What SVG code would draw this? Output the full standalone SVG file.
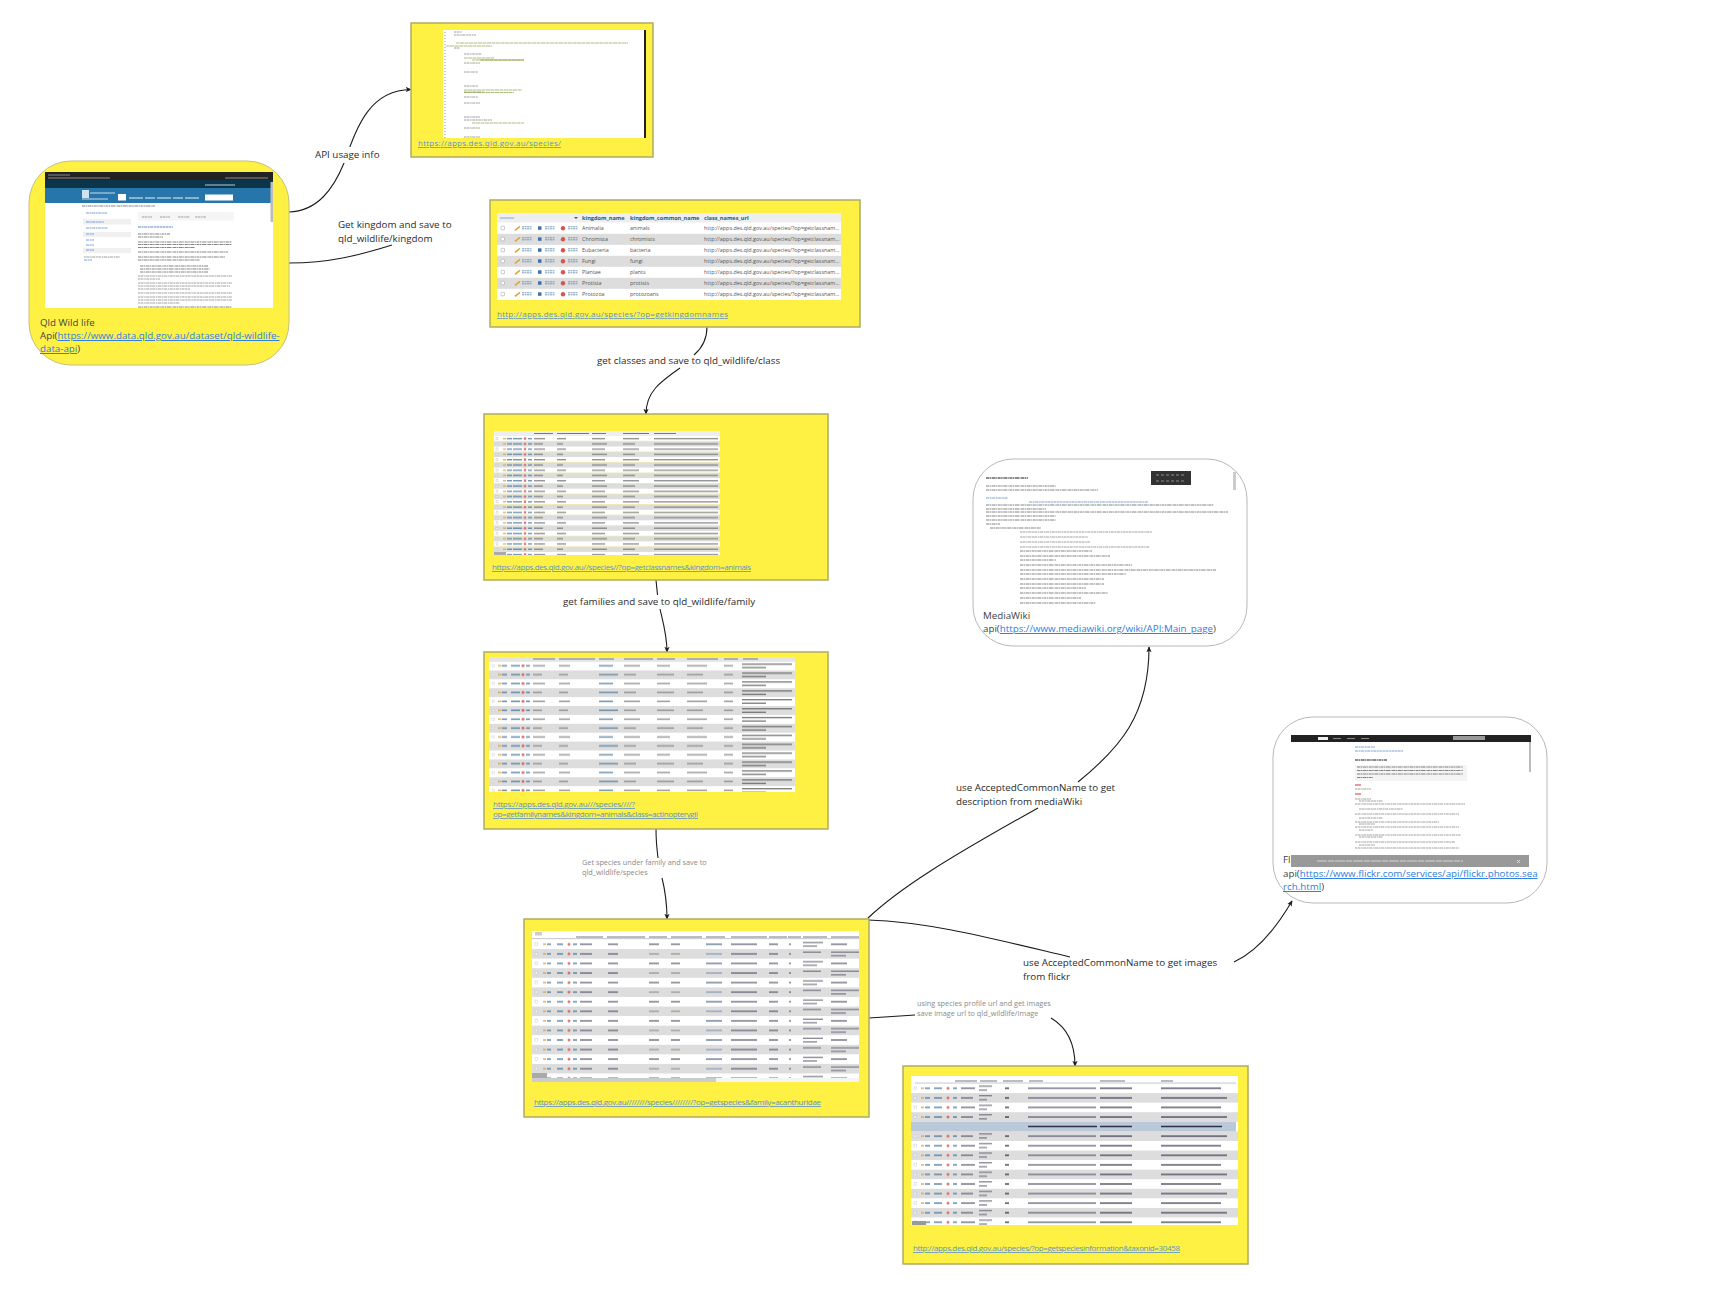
<svg xmlns="http://www.w3.org/2000/svg" width="1719" height="1308" viewBox="0 0 1719 1308">
<style>
text{font-family:"Open Sans","Noto Sans","Liberation Sans",sans-serif}
.box{fill:#fff143;stroke:#aeaa62;stroke-width:1.5}
.rnd{fill:#fff143;stroke:#c4c17e;stroke-width:1}
.wht{fill:#fff;stroke:#b8b8b8;stroke-width:1}
.t{font-size:9.8px;fill:#2b2b2b}
.g{font-size:7.3px;fill:#8a8a8a}
.n{font-size:9.75px;fill:#444}
.lk{font-size:8px;fill:#5a94cc;text-decoration:underline}
.a{fill:#2f7de1;text-decoration:underline}
.c{fill:none;stroke:#1c1c1c;stroke-width:1.1}
.ca{fill:none;stroke:#1c1c1c;stroke-width:1.1;marker-end:url(#ah)}
.soft{filter:url(#bl)}
.bg{fill:#fff}
.l1{fill:none;stroke:#888;stroke-width:.8;stroke-dasharray:2 .5 3 .7 1.500 .5 3 .6}
.l2{fill:none;stroke:#666;stroke-width:.8;stroke-dasharray:3 .5 1.500 .6 4 .5 1 .6}
.l3{fill:none;stroke:#5a8ac8;stroke-width:.8;stroke-dasharray:3 .6 2 .5}
.l4{fill:none;stroke:#8aa248;stroke-width:.7;stroke-dasharray:3 .5 5 .5}
.hd{font-size:5.6px;font-weight:700;fill:#235a81}
.rw{font-size:5.4px;fill:#555}
.h{fill:none;stroke:#778;stroke-width:1}
</style>
<defs>
<marker id="ah" viewBox="0 0 8 8" refX="7" refY="4" markerWidth="6" markerHeight="6" orient="auto" markerUnits="userSpaceOnUse"><path d="M0 0.5L8 4L0 7.500L2 4Z" fill="#1c1c1c"/></marker>
<filter id="bl" x="-2%" y="-2%" width="104%" height="104%"><feGaussianBlur stdDeviation="0.35"/></filter>
<g id="act"><rect x="0" y="-2" width="3.500" height="3.500" rx=".5" fill="#fff" stroke="#999" stroke-width=".5"/><path d="M14 2L19 -2" stroke="#e0a030" stroke-width="1.500"/><path d="M21 -1.500H31M21 .5H31" stroke="#6a93b5" stroke-width=".9" stroke-dasharray="2 .5"/><rect x="37" y="-2" width="3.500" height="3.500" fill="#3f72a8"/><path d="M44 -1.500H54M44 .5H54" stroke="#6a93b5" stroke-width=".9" stroke-dasharray="2 .5"/><circle cx="62" cy="0" r="2.200" fill="#d9534f"/><path d="M67 -1.500H77M67 .5H77" stroke="#6a93b5" stroke-width=".9" stroke-dasharray="2 .5"/></g>
<pattern id="pClass" patternUnits="userSpaceOnUse" x="494" y="436" width="226" height="10.54">
<rect width="226" height="5.27" fill="#fff"/><rect y="5.27" width="226" height="5.27" fill="#ddd"/>
<g fill="#777" opacity=".8"><rect x="2" y="1.700" width="2" height="2" fill="#fff" stroke="#aaa" stroke-width=".4"/><rect x="9" y="1.900" width="3" height="1.400" fill="#dba23a"/><rect x="13" y="1.900" width="5" height="1.400" fill="#4a7aa0"/><rect x="19" y="1.900" width="9" height="1.400" fill="#4a7aa0"/><circle cx="31" cy="2.600" r="1.300" fill="#d9534f"/><rect x="34" y="1.900" width="4" height="1.400" fill="#4a7aa0"/><rect x="40" y="1.900" width="11" height="1.400"/><rect x="63" y="1.900" width="9" height="1.400"/><rect x="98" y="1.900" width="13" height="1.400"/><rect x="129" y="1.900" width="16" height="1.400"/><rect x="160" y="1.900" width="64" height="1.400" fill="#777"/>
<rect x="2" y="7" width="2" height="2" fill="#fff" stroke="#aaa" stroke-width=".4"/><rect x="9" y="7.200" width="3" height="1.400" fill="#dba23a"/><rect x="13" y="7.200" width="5" height="1.400" fill="#4a7aa0"/><rect x="19" y="7.200" width="9" height="1.400" fill="#4a7aa0"/><circle cx="31" cy="7.900" r="1.300" fill="#d9534f"/><rect x="34" y="7.200" width="4" height="1.400" fill="#4a7aa0"/><rect x="40" y="7.200" width="9" height="1.400"/><rect x="63" y="7.200" width="6" height="1.400"/><rect x="98" y="7.200" width="15" height="1.400"/><rect x="129" y="7.200" width="12" height="1.400"/><rect x="160" y="7.200" width="64" height="1.400" fill="#777"/></g>
</pattern>
<pattern id="pFam" patternUnits="userSpaceOnUse" x="489" y="661.500" width="306" height="17.8">
<rect width="306" height="8.9" fill="#fff"/><rect y="8.9" width="306" height="8.9" fill="#ddd"/>
<g fill="#8a8a8a" opacity=".8"><rect x="3" y="3" width="2.400" height="2.400" fill="#fff" stroke="#aaa" stroke-width=".4"/><rect x="9" y="3.500" width="3.500" height="1.600" fill="#dba23a"/><rect x="13" y="3.500" width="5" height="1.600" fill="#4a7aa0"/><rect x="22" y="3.500" width="9" height="1.600" fill="#4a7aa0"/><circle cx="34" cy="4.300" r="1.500" fill="#d9534f"/><rect x="37" y="3.500" width="4" height="1.600" fill="#4a7aa0"/><rect x="44" y="3.500" width="12" height="1.600"/><rect x="70" y="3.500" width="11" height="1.600"/><rect x="110" y="3.500" width="14" height="1.600" fill="#5a7fa0"/><rect x="135" y="3.500" width="16" height="1.600"/><rect x="168" y="3.500" width="13" height="1.600"/><rect x="198" y="3.500" width="20" height="1.600"/><rect x="235" y="3.500" width="9" height="1.600"/><rect x="253" y="2" width="50" height="1.300" fill="#555"/><rect x="253" y="5.500" width="24" height="1.300" fill="#555"/>
<rect x="3" y="12" width="2.400" height="2.400" fill="#fff" stroke="#aaa" stroke-width=".4"/><rect x="9" y="12.400" width="3.500" height="1.600" fill="#dba23a"/><rect x="13" y="12.400" width="5" height="1.600" fill="#4a7aa0"/><rect x="22" y="12.400" width="9" height="1.600" fill="#4a7aa0"/><circle cx="34" cy="13.200" r="1.500" fill="#d9534f"/><rect x="37" y="12.400" width="4" height="1.600" fill="#4a7aa0"/><rect x="44" y="12.400" width="9" height="1.600"/><rect x="70" y="12.400" width="9" height="1.600"/><rect x="110" y="12.400" width="19" height="1.600" fill="#5a7fa0"/><rect x="135" y="12.400" width="12" height="1.600"/><rect x="168" y="12.400" width="17" height="1.600"/><rect x="198" y="12.400" width="16" height="1.600"/><rect x="235" y="12.400" width="9" height="1.600"/><rect x="253" y="11" width="50" height="1.300" fill="#555"/><rect x="253" y="14.500" width="24" height="1.300" fill="#555"/></g>
</pattern>
<pattern id="pSp" patternUnits="userSpaceOnUse" x="532" y="939.500" width="327" height="19.14">
<rect width="327" height="9.57" fill="#fff"/><rect y="9.57" width="327" height="9.57" fill="#ddd"/>
<g fill="#667" opacity=".8"><rect x="3" y="3.500" width="2.400" height="2.400" fill="#fff" stroke="#aaa" stroke-width=".4"/><rect x="11" y="4" width="3" height="1.600" fill="#dba23a"/><rect x="15" y="4" width="4" height="1.600" fill="#4a7aa0"/><rect x="25" y="4" width="6" height="1.600" fill="#4a7aa0"/><circle cx="37" cy="4.800" r="1.500" fill="#d9534f"/><rect x="41" y="4" width="4" height="1.600" fill="#4a7aa0"/><rect x="48" y="4" width="12" height="1.600"/><rect x="76" y="4" width="10" height="1.600"/><rect x="117" y="4" width="10" height="1.600"/><rect x="139" y="4" width="9" height="1.600"/><rect x="174" y="4" width="16" height="1.600" fill="#59748f"/><rect x="199" y="4" width="26" height="1.600"/><rect x="237" y="4" width="9" height="1.600"/><rect x="257" y="4" width="2" height="1.600"/><rect x="271" y="2.500" width="20" height="1.300"/><rect x="271" y="6" width="14" height="1.300"/><rect x="299" y="4" width="16" height="1.600"/>
<rect x="3" y="13" width="2.400" height="2.400" fill="#fff" stroke="#aaa" stroke-width=".4"/><rect x="11" y="13.600" width="3" height="1.600" fill="#dba23a"/><rect x="15" y="13.600" width="4" height="1.600" fill="#4a7aa0"/><rect x="25" y="13.600" width="6" height="1.600" fill="#4a7aa0"/><circle cx="37" cy="14.400" r="1.500" fill="#d9534f"/><rect x="41" y="13.600" width="4" height="1.600" fill="#4a7aa0"/><rect x="48" y="13.600" width="12" height="1.600"/><rect x="76" y="13.600" width="10" height="1.600"/><rect x="117" y="13.600" width="10" height="1.600" fill="#999"/><rect x="139" y="13.600" width="9" height="1.600" fill="#999"/><rect x="174" y="13.600" width="16" height="1.600" fill="#8aa0b8"/><rect x="199" y="13.600" width="26" height="1.600"/><rect x="237" y="13.600" width="9" height="1.600"/><rect x="257" y="13.600" width="2" height="1.600"/><rect x="271" y="12" width="18" height="1.300"/><rect x="299" y="12" width="28" height="1.300"/><rect x="299" y="15.500" width="15" height="1.300"/></g>
</pattern>
<pattern id="pImg" patternUnits="userSpaceOnUse" x="911" y="1083.500" width="327" height="19.14">
<rect width="327" height="9.57" fill="#fff"/><rect y="9.57" width="327" height="9.57" fill="#ddd"/>
<g fill="#667" opacity=".8"><rect x="3" y="3.500" width="2.400" height="2.400" fill="#fff" stroke="#aaa" stroke-width=".4"/><rect x="10" y="4" width="3" height="1.600" fill="#dba23a"/><rect x="14" y="4" width="5" height="1.600" fill="#4a7aa0"/><rect x="23" y="4" width="8" height="1.600" fill="#4a7aa0"/><circle cx="37" cy="4.800" r="1.500" fill="#d9534f"/><rect x="42" y="4" width="4" height="1.600" fill="#4a7aa0"/><rect x="50" y="4" width="14" height="1.600"/><rect x="68" y="2" width="13" height="1.300"/><rect x="68" y="6" width="8" height="1.300"/><rect x="94" y="4" width="4" height="1.600" fill="#333"/><rect x="117" y="4" width="68" height="1.600"/><rect x="189" y="4" width="32" height="1.600" fill="#445"/><rect x="250" y="4" width="60" height="1.600" fill="#445"/>
<rect x="3" y="13" width="2.400" height="2.400" fill="#fff" stroke="#aaa" stroke-width=".4"/><rect x="10" y="13.600" width="3" height="1.600" fill="#dba23a"/><rect x="14" y="13.600" width="5" height="1.600" fill="#4a7aa0"/><rect x="23" y="13.600" width="8" height="1.600" fill="#4a7aa0"/><circle cx="37" cy="14.400" r="1.500" fill="#d9534f"/><rect x="42" y="13.600" width="4" height="1.600" fill="#4a7aa0"/><rect x="50" y="13.600" width="12" height="1.600"/><rect x="68" y="11.500" width="13" height="1.300"/><rect x="68" y="15.500" width="8" height="1.300"/><rect x="94" y="13.600" width="4" height="1.600" fill="#333"/><rect x="117" y="13.600" width="68" height="1.600"/><rect x="189" y="13.600" width="32" height="1.600" fill="#445"/><rect x="250" y="13.600" width="66" height="1.600" fill="#445"/></g>
</pattern>
</defs>

<g id="connectors">
<path class="ca" d="M289 212C317 211 333 190 344 163C356 130 368 90 411 89.500"/>
<path class="c" d="M289 263C330 263 360 255 392 245"/>
<path class="c" d="M707 327C707 341 701 349 694 355"/>
<path class="ca" d="M680 368C660 382 646 392 646 414"/>
<path class="c" d="M656 580L657.500 595"/>
<path class="ca" d="M660 609C663 622 667 635 667 652"/>
<path class="c" d="M656 829C656 840 657 850 658 858"/>
<path class="ca" d="M662 878C665 890 667 905 667 919"/>
<path class="c" d="M868 918C900 888 945 860 1038 808"/>
<path class="ca" d="M1078 782C1120 748 1149 715 1149 647"/>
<path class="c" d="M868 920C930 922 990 938 1070 957"/>
<path class="ca" d="M1234 962C1260 950 1278 925 1292 901"/>
<path class="c" d="M869 1018L915 1015"/>
<path class="ca" d="M1051 1018C1068 1028 1075 1045 1075 1066"/>
</g>

<g id="node-qld">
<rect class="rnd" x="29" y="161" width="260" height="204" rx="42"/>
<g class="soft">
<rect x="45" y="172" width="228" height="136" fill="#fff"/>
<rect x="45" y="172" width="228" height="8" fill="#202124"/>
<rect x="45" y="180" width="228" height="8" fill="#0c3448"/>
<rect x="45" y="188" width="228" height="15" fill="#2676ab"/>
<rect x="270.500" y="182" width="2.500" height="40" fill="#bbb"/>
<path d="M48 175H70M48 178H110M225 178H268" stroke="#999" stroke-width=".9" fill="none"/>
<path d="M205 185H235" stroke="#cde" stroke-width=".9"/>
<rect x="82" y="190" width="7" height="8" fill="#cfe3f0"/>
<path d="M90 193H115M82 199H108" stroke="#dbe9f3" stroke-width=".9"/>
<rect x="118" y="194" width="8" height="6.500" fill="#fff"/>
<path d="M129 198H200" stroke="#e6f0f6" stroke-width="1" stroke-dasharray="14 2 10 2"/>
<rect x="205" y="194.500" width="28" height="6" fill="#fff"/>
<rect x="83" y="219" width="48" height="5.500" fill="#f0f0f0"/><rect x="83" y="232" width="48" height="5" fill="#f0f0f0"/><rect x="83" y="248" width="48" height="5" fill="#f0f0f0"/>
<rect x="138" y="212" width="96" height="8.500" fill="#f5f5f5"/>
<path class="l2" d="M82 206H155"/>
<path class="l3" d="M86 213H107M86 222H104M86 228H108M86 234H94M86 240H94M86 245H94M86 250H94"/>
<path class="l1" d="M84 257H120"/><path class="l3" d="M84 260H92"/>
<path class="l1" d="M142 217H152M160 217H170M178 217H190M195 217H206"/>
<path class="l3" d="M138 227H173" style="stroke-width:1.100"/>
<path class="l2" d="M138 234H170M138 237H163M138 242H232M138 244.500H232M138 247.500H195M138 252H228M138 257H225M138 260H200M140 266H208M140 269H210M140 272H208"/>
<path class="l1" d="M138 276H232M138 279H160M138 283H232M138 286H230M138 289H190M138 293H232M138 297H232M138 300H232M138 303H180"/>
<path class="l2" d="M138 307H232"/>
</g>
<text class="n"><tspan x="40" y="326">Qld Wild life</tspan><tspan x="40" y="339">Api(<tspan class="a">https://www.data.qld.gov.au/dataset/qld-wildlife-</tspan></tspan><tspan x="40" y="352"><tspan class="a">data-api</tspan>)</tspan></text>
</g>

<g id="node-usage">
<rect class="box" x="411" y="23" width="242" height="134"/>
<g class="soft" transform="translate(-6 0)">
<rect x="449" y="30" width="202" height="108" fill="#fff"/>
<rect x="650" y="30" width="2" height="108" fill="#222"/>
<path d="M451 32V138" stroke="#ccc" stroke-width="2" stroke-dasharray="1 2"/>
<path class="l1" d="M460 32H468M460 35H482M460 48H466M470 54H488M470 63H486M470 72H484M470 86H484M470 92H490M470 97H484M470 103H486M470 117H486M470 120H498M470 128H486M470 137H486"/>
<path class="l4" d="M462 43H634M452 46H498M470 58H500M478 60H530M470 90H528M470 92.500H520M478 123H530"/>
<path d="M486 60H530" stroke="#7c8f1a" stroke-width=".6"/>
</g>
<text class="lk" x="418" y="146" textLength="143">https://apps.des.qld.gov.au/species/</text>
</g>

<g id="node-kingdom">
<rect class="box" x="490" y="200" width="370" height="127"/>
<g class="soft">
<rect x="497" y="213" width="344" height="87" fill="#fff"/>
<rect x="497" y="213" width="344" height="9.500" fill="#eee"/>
<rect x="497" y="233.800" width="344" height="11" fill="#ddd"/><rect x="497" y="255.800" width="344" height="11" fill="#ddd"/><rect x="497" y="277.800" width="344" height="11" fill="#ddd"/>
<path d="M500 218H514" stroke="#7aa0cc" stroke-width=".9"/>
<path d="M574 217L578 217L576 219Z" fill="#555"/>
<use href="#act" x="501" y="228.300"/><use href="#act" x="501" y="239.300"/><use href="#act" x="501" y="250.300"/><use href="#act" x="501" y="261.300"/><use href="#act" x="501" y="272.300"/><use href="#act" x="501" y="283.300"/><use href="#act" x="501" y="294.300"/>
</g>
<text class="hd" x="582" y="220">kingdom_name</text><text class="hd" x="630" y="220">kingdom_common_name</text><text class="hd" x="704" y="220">class_names_url</text>
<text class="rw" x="582" y="230.300">Animalia</text><text class="rw" x="630" y="230.300">animals</text><text class="rw" x="704" y="230.300">http://apps.des.qld.gov.au/species/?op=getclassnam...</text>
<text class="rw" x="582" y="241.300">Chromista</text><text class="rw" x="630" y="241.300">chromists</text><text class="rw" x="704" y="241.300">http://apps.des.qld.gov.au/species/?op=getclassnam...</text>
<text class="rw" x="582" y="252.300">Eubacteria</text><text class="rw" x="630" y="252.300">bacteria</text><text class="rw" x="704" y="252.300">http://apps.des.qld.gov.au/species/?op=getclassnam...</text>
<text class="rw" x="582" y="263.300">Fungi</text><text class="rw" x="630" y="263.300">fungi</text><text class="rw" x="704" y="263.300">http://apps.des.qld.gov.au/species/?op=getclassnam...</text>
<text class="rw" x="582" y="274.300">Plantae</text><text class="rw" x="630" y="274.300">plants</text><text class="rw" x="704" y="274.300">http://apps.des.qld.gov.au/species/?op=getclassnam...</text>
<text class="rw" x="582" y="285.300">Protista</text><text class="rw" x="630" y="285.300">protists</text><text class="rw" x="704" y="285.300">http://apps.des.qld.gov.au/species/?op=getclassnam...</text>
<text class="rw" x="582" y="296.300">Protozoa</text><text class="rw" x="630" y="296.300">protozoans</text><text class="rw" x="704" y="296.300">http://apps.des.qld.gov.au/species/?op=getclassnam...</text>
<text class="lk" x="497" y="317" textLength="231">http://apps.des.qld.gov.au/species/?op=getkingdomnames</text>
</g>

<g id="node-class">
<rect class="box" x="484" y="414" width="344" height="166"/>
<g class="soft"><rect x="494" y="431" width="226" height="124" fill="url(#pClass)"/><rect x="494" y="431" width="226" height="5" fill="#eee"/><path class="h" d="M534 433.500H553M557 433.500H589M592 433.500H606M623 433.500H649M654 433.500H676"/><rect x="494" y="552" width="12" height="3" fill="#aaa"/></g>
<text class="lk" x="492" y="570" textLength="259">https://apps.des.qld.gov.au//species//?op=getclassnames&amp;kingdom=animals</text>
</g>

<g id="node-family">
<rect class="box" x="484" y="652" width="344" height="177"/>
<g class="soft"><rect x="489" y="657" width="306" height="135" fill="url(#pFam)"/><rect x="489" y="657" width="306" height="4.500" fill="#e4e4e4"/><path class="h" d="M533 659H555M559 659H595M599 659H614M624 659H653M657 659H675M687 659H718M724 659H738M743 659H758"/></g>
<text class="lk"><tspan x="493" y="807" textLength="142">https://apps.des.qld.gov.au///species////?</tspan><tspan x="493" y="817" textLength="205">op=getfamilynames&amp;kingdom=animals&amp;class=actinopterygii</tspan></text>
</g>

<g id="node-species">
<rect class="box" x="524" y="919" width="345" height="198"/>
<g class="soft"><rect x="532" y="931" width="327" height="151" fill="url(#pSp)"/><rect x="532" y="931" width="327" height="8.500" fill="#fff"/><path d="M532 938.500H859" stroke="#ccc" stroke-width="1.200"/><path class="h" d="M576 937H603M607 937H645M649 937H667M671 937H702M706 937H725M731 937H767M769 937H787M788 937H801M803 937H827M831 937H859"/><rect x="535" y="932" width="7" height="3.500" fill="#ccc"/><rect x="532" y="1078" width="327" height="4" fill="#f4f4f4"/><rect x="532" y="1078" width="184" height="4" fill="#ccc"/><rect x="532" y="1073" width="15" height="5" fill="#aaa"/></g>
<text class="lk" x="534" y="1105" textLength="287">https://apps.des.qld.gov.au////////species////////?op=getspecies&amp;family=acanthuridae</text>
</g>

<g id="node-images">
<rect class="box" x="903" y="1066" width="345" height="198"/>
<g class="soft"><rect x="911" y="1076" width="327" height="149" fill="url(#pImg)"/><rect x="911" y="1076" width="327" height="7.500" fill="#fff"/><path d="M915 1083H1236" stroke="#ccc" stroke-width="1.200"/><path class="h" d="M955 1081H977M980 1081H997M1003 1081H1023M1029 1081H1043M1100 1081H1125M1161 1081H1173"/><rect x="911" y="1121.800" width="325" height="9.600" fill="#b9c9da"/><path d="M1028 1126.500H1097M1100 1126.500H1132M1161 1126.500H1222" stroke="#334" stroke-width="1.500"/><rect x="912" y="1221" width="14" height="4" fill="#999"/></g>
<text class="lk" x="913" y="1251" textLength="267">http://apps.des.qld.gov.au/species/?op=getspeciesinformation&amp;taxonid=30458</text>
</g>

<g id="node-mediawiki">
<rect class="wht" x="973" y="459" width="274" height="187" rx="40"/>
<g class="soft" transform="translate(-14 -6)">
<rect x="1165" y="477" width="40" height="14" fill="#333"/>
<path d="M1170 481H1198M1170 487H1200" stroke="#999" stroke-width=".9" stroke-dasharray="3 2"/>
<rect x="1247" y="478" width="3" height="18" fill="#ccc"/>
<path class="l2" d="M1000 484H1042" style="stroke-width:1.400"/>
<path class="l2" d="M1000 492H1070M1000 496H1112M1000 511H1228M1000 515H1060M1000 518H1242M1000 522H1070M1000 526H1070"/>
<path class="l3" d="M1000 504H1022M1043 508H1162"/>
<path class="l2" d="M1000 530H1014M1004 534H1055"/>
<path class="l1" d="M1034 538H1166M1034 543H1102M1034 548H1104M1034 553H1164"/>
<path class="l2" d="M1034 557H1106M1034 562H1124M1034 566H1070M1034 571H1146M1034 576H1230M1034 580H1140M1034 585H1118M1034 590H1118M1034 594H1100M1034 599H1122M1034 604H1095M1034 609H1110"/>
</g>
<text class="n"><tspan x="983" y="619">MediaWiki</tspan><tspan x="983" y="632">api(<tspan class="a">https://www.mediawiki.org/wiki/API:Main_page</tspan>)</tspan></text>
</g>

<g id="node-flickr">
<rect class="wht" x="1273" y="717" width="274" height="186" rx="40"/>
<text class="n"><tspan x="1283" y="863">Flickr</tspan><tspan x="1283" y="877">api(<tspan class="a">https://www.flickr.com/services/api/flickr.photos.sea</tspan></tspan><tspan x="1283" y="890"><tspan class="a">rch.html</tspan>)</tspan></text>
<g class="soft" transform="translate(-17 -10)">
<rect x="1308" y="745" width="240" height="122" fill="#fff"/>
<rect x="1308" y="745" width="240" height="7" fill="#212124"/>
<rect x="1335" y="747" width="10" height="3" fill="#eee"/>
<path d="M1350 748.500H1390" stroke="#888" stroke-width="1" stroke-dasharray="8 6"/>
<rect x="1470" y="746" width="32" height="4" fill="#999"/>
<rect x="1546" y="752" width="2" height="30" fill="#bbb"/>
<rect x="1372" y="775" width="112" height="16" fill="#f4f4f4"/>
<path class="l3" d="M1372 757H1392M1372 761H1420"/>
<path class="l2" d="M1372 770H1404" style="stroke-width:1.300"/>
<path class="l2" d="M1374 777H1480M1374 780.500H1480M1374 784H1480M1374 787.500H1390"/>
<path d="M1372 795H1378M1372 804H1378" stroke="#d33" stroke-width="1"/>
<path class="l1" d="M1372 799H1388M1372 809H1388M1376 811H1400M1372 814H1482M1376 819H1420M1372 824H1476M1376 828H1400M1372 832H1456M1376 834H1392M1372 837H1476M1376 840H1390M1372 845H1478M1376 847H1400M1372 852H1472M1376 855H1392M1372 858H1476"/>
<rect x="1308" y="865" width="238" height="12" fill="#999"/>
<path d="M1334 871H1480" stroke="#ddd" stroke-width=".9" stroke-dasharray="10 1 6 1"/>
<path d="M1534 870L1537 873M1537 870L1534 873" stroke="#eee" stroke-width=".7"/>
</g>
</g>

<g id="labels">
<rect class="bg" x="313" y="147" width="68" height="16"/>
<text class="t" x="315" y="158">API usage info</text>
<text class="t"><tspan x="338" y="228">Get kingdom and save to</tspan><tspan x="338" y="242">qld_wildlife/kingdom</tspan></text>
<text class="t" x="597" y="364">get classes and save to qld_wildlife/class</text>
<text class="t" x="563" y="605">get families and save to qld_wildlife/family</text>
<text class="g"><tspan x="582" y="865">Get species under family and save to</tspan><tspan x="582" y="875">qld_wildlife/species</tspan></text>
<text class="t"><tspan x="956" y="791">use AcceptedCommonName to get</tspan><tspan x="956" y="805">description from mediaWiki</tspan></text>
<text class="t"><tspan x="1023" y="966">use AcceptedCommonName to get images</tspan><tspan x="1023" y="980">from flickr</tspan></text>
<text class="g"><tspan x="917" y="1006">using species profile url and get images</tspan><tspan x="917" y="1016">save image url to qld_wildlife/image</tspan></text>
</g>
</svg>
